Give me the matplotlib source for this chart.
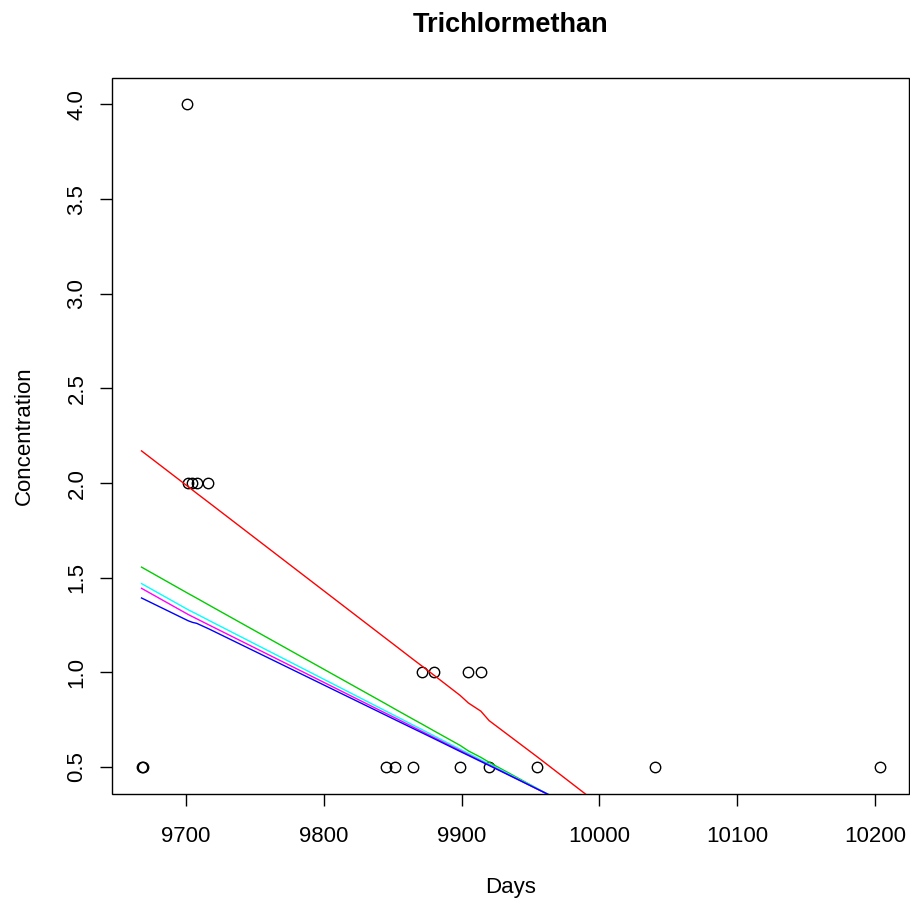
import numpy as np
import matplotlib
matplotlib.use("Agg")
import matplotlib.pyplot as plt

plt.rcParams['font.family'] = ['Liberation Sans', 'DejaVu Sans']

# observed concentrations
obs_days = [9668, 9669, 9700.7, 9701.5, 9704.5, 9708, 9716.5,
            9845, 9852, 9864.5, 9871, 9880.4, 9898.6, 9905, 9913.8,
            9919.6, 9955, 10040.6, 10203.6]
obs_conc = [0.5, 0.5, 4.0, 2.0, 2.0, 2.0, 2.0,
            0.5, 0.5, 0.5, 1.0, 1.0, 0.5, 1.0, 1.0,
            0.5, 0.5, 0.5, 0.5]

# fitted curves evaluated at the sampling days
fit_days = [9668, 9702, 9705, 9708, 9717, 9845, 9852, 9865, 9871, 9880,
            9899, 9905, 9914, 9920, 9955, 10041]
fit_red = [2.170, 1.980, 1.963, 1.946, 1.896, 1.180, 1.141, 1.068, 1.035, 0.985,
           0.878, 0.838, 0.795, 0.745, 0.553, 0.07]
fit_green = [1.556, 1.416, 1.404, 1.392, 1.355, 0.834, 0.805, 0.752, 0.728, 0.691,
             0.614, 0.585, 0.551, 0.525, 0.386, 0.04]
fit_cyan = [1.469, 1.330, 1.319, 1.308, 1.274, 0.796, 0.770, 0.721, 0.699, 0.665,
            0.594, 0.572, 0.538, 0.516, 0.385, 0.06]
fit_magenta = [1.444, 1.305, 1.294, 1.283, 1.250, 0.784, 0.759, 0.711, 0.689, 0.656,
               0.587, 0.565, 0.532, 0.511, 0.383, 0.07]
fit_blue = [1.393, 1.272, 1.264, 1.259, 1.229, 0.774, 0.749, 0.703, 0.682, 0.650,
            0.582, 0.561, 0.529, 0.508, 0.383, 0.08]

W, H = 910, 906
fig = plt.figure(figsize=(W / 100, H / 100), dpi=100)
ax = fig.add_axes([112 / W, (H - 793.5) / H, 797 / W, 715.5 / H])

ax.plot(obs_days, obs_conc, 'o', mfc='none', mec='black', ms=7.5, mew=1.0)
curves = [(fit_red, '#FF0000'), (fit_green, '#00CD00'), (fit_cyan, '#00FFFF'),
          (fit_magenta, '#FF00FF'), (fit_blue, '#0000FF')]
for vals, col in curves:
    ax.plot(fit_days, vals, color=col, lw=1.0)

ax.set_xlim(9646.6, 10224.4)
ax.set_ylim(0.36, 4.14)
ax.set_xticks(np.arange(9700, 10201, 100))
ax.set_yticks(np.arange(0.5, 4.01, 0.5))
ax.set_yticklabels([f"{v:.1f}" for v in np.arange(0.5, 4.01, 0.5)])

ax.spines['top'].set_visible(False)
ax.spines['right'].set_visible(False)
for s in ['left', 'bottom']:
    ax.spines[s].set_linewidth(1.0)
# R style: axis lines only span the tick range, box drawn separately
ax.spines['left'].set_visible(False)
ax.spines['bottom'].set_visible(False)
box = plt.Rectangle((0, 0), 1, 1, transform=ax.transAxes, fill=False,
                    lw=1.0, ec='black', clip_on=False)
ax.add_patch(box)

ax.tick_params(axis='both', length=8.6, width=1.0, labelsize=16)
ax.tick_params(axis='x', pad=15)
ax.tick_params(axis='y', pad=9)
plt.setp(ax.get_yticklabels(), rotation=90, va='center')

fig.text(510.5 / W, 1 - 25 / H, 'Trichlormethan', ha='center', va='center',
         fontsize=19.5, fontweight='bold')
fig.text(510.5 / W, 1 - 888 / H, 'Days', ha='center', va='center', fontsize=16)
fig.text(24 / W, 1 - 436 / H, 'Concentration', ha='center', va='center',
         fontsize=16, rotation=90)

fig.savefig('out.png', dpi=100)
